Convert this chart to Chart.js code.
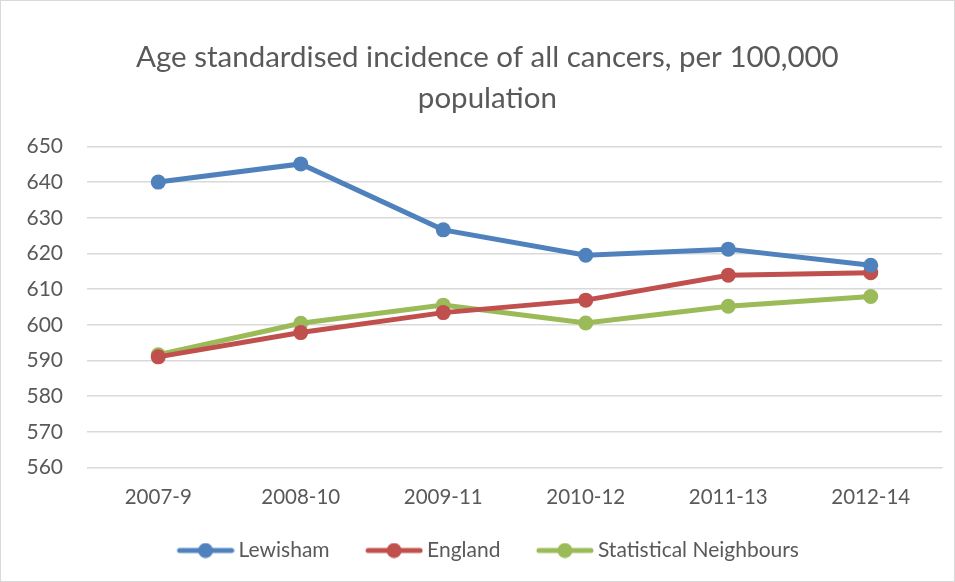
<!DOCTYPE html>
<html>
<head>
<meta charset="utf-8">
<script src="https://cdn.jsdelivr.net/npm/chart.js@4.4.0/dist/chart.umd.min.js"></script>
<style>
  html, body { margin: 0; padding: 0; background: #fff; }
  #wrap { position: absolute; left: 0; top: 0; width: 953px; height: 580px; border: 1px solid #d9d9d9; }
</style>
</head>
<body>
<div id="wrap"><canvas id="myChart"></canvas></div>
<script>
const periods = ['2007-9', '2008-10', '2009-11', '2010-12', '2011-13', '2012-14']
const lewisham = [640.0, 645.1, 626.6, 619.5, 621.2, 616.7]
const england = [591.0, 597.8, 603.4, 606.9, 613.9, 614.6]
const neighbours = [591.6, 600.4, 605.5, 600.5, 605.2, 607.9]

const grey = '#595959'
const font = "Lato, 'Open Sans', sans-serif"

// line-with-dot picture for the legend, drawn at the right end of the canvas
const legendMark = (color) => {
  const c = document.createElement('canvas')
  c.width = 80
  c.height = 16
  const g = c.getContext('2d')
  g.strokeStyle = color
  g.lineWidth = 5
  g.lineCap = 'round'
  g.beginPath()
  g.moveTo(25, 8)
  g.lineTo(77, 8)
  g.stroke()
  g.fillStyle = color
  g.beginPath()
  g.arc(51, 8, 7.5, 0, Math.PI * 2)
  g.fill()
  return c
}

const series = (label, data, color) => ({
  label: label,
  data: data,
  borderColor: color,
  backgroundColor: color,
  borderWidth: 5,
  pointRadius: 7.5,
  pointHoverRadius: 7.5,
  pointBorderWidth: 0,
  pointStyle: 'circle',
  lineTension: 0
})

const ctx = document.getElementById('myChart')

new Chart(ctx, {
  type: 'line',
  data: {
    labels: periods,
    datasets: [
      series('Lewisham', lewisham, '#4f81bd'),
      series('England', england, '#c0504d'),
      series('Statistical Neighbours', neighbours, '#9bbb59')
    ]
  },
  options: {
    responsive: true,
    maintainAspectRatio: false,
    animation: false,
    layout: { padding: { left: 17, right: 12, top: 36, bottom: 10 } },
    scales: {
      x: {
        offset: true,
        grid: { display: false },
        border: { display: true, color: '#d9d9d9', width: 1 },
        ticks: { color: grey, font: { family: font, size: 20.5 }, padding: 10 }
      },
      y: {
        min: 560,
        max: 650,
        afterFit: (scale) => { scale.width = 69 },
        ticks: { stepSize: 10, color: grey, font: { family: font, size: 21 }, padding: 24 },
        grid: { color: '#d9d9d9', lineWidth: 1.5, drawTicks: false },
        border: { display: false }
      }
    },
    plugins: {
      title: {
        display: true,
        text: ['\u2002Age standardised incidence of all cancers, per 100,000', '\u2002population'],
        color: grey,
        font: { family: font, size: 29.5, weight: 'normal', lineHeight: 1.38 },
        padding: { top: 0, bottom: 28 }
      },
      legend: {
        position: 'bottom',
        labels: {
          color: grey,
          font: { family: font, size: 21 },
          usePointStyle: true,
          pointStyleWidth: 67,
          boxHeight: 14,
          padding: 20,
          generateLabels: (chart) => chart.data.datasets.map((ds, i) => ({
            text: ds.label,
            fillStyle: ds.borderColor,
            strokeStyle: ds.borderColor,
            fontColor: grey,
            lineWidth: 0,
            pointStyle: legendMark(ds.borderColor),
            datasetIndex: i
          }))
        }
      },
      tooltip: { enabled: false }
    }
  }
})
</script>
</body>
</html>
